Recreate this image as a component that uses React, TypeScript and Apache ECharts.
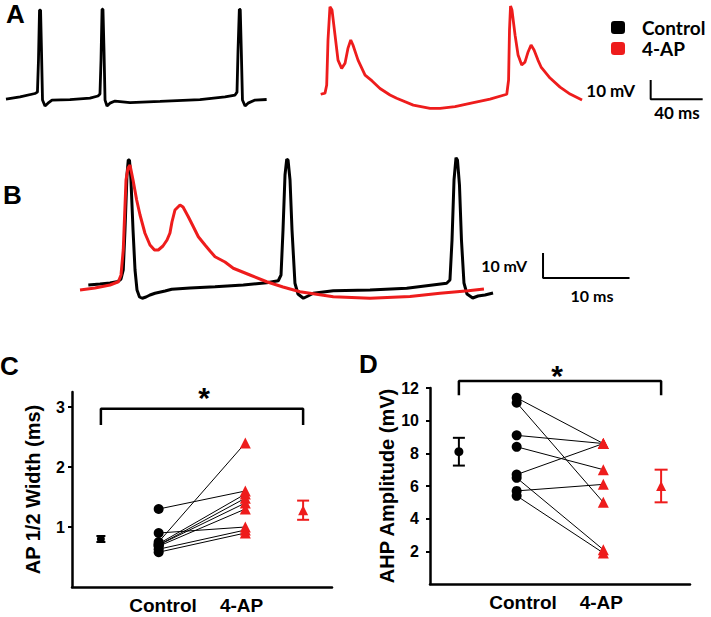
import React, { useEffect, useRef } from 'react';
import * as echarts from 'echarts';

const RED = '#ee1c1c';
const BLACK = '#000000';
const ARIAL = '"Liberation Sans", Arial, Helvetica, sans-serif';
const CALIBRI = 'Lato, "Open Sans", sans-serif';

// ---------- Panel A (time in ms, membrane potential in mV) ----------
const aControlT = [4.6, 15.4, 26.9, 28.8, 29.6, 30.4, 31.2, 31.9, 32.7, 34.6, 36.9, 40.0, 53.8, 69.2, 75.4, 76.9, 77.7, 78.5, 79.2, 80.0, 80.8, 82.3, 84.6, 88.5, 100.0, 123.1, 153.8, 173.1, 180.8, 182.3, 183.1, 184.1, 184.8, 185.6, 186.5, 188.5, 190.8, 196.2, 205.1];
const aControlV = [-51.3, -50.2, -48.4, -47.7, -31.1, -5.2, -5.2, -25.9, -51.8, -54.9, -53.4, -51.8, -51.6, -50.8, -49.7, -48.7, -31.1, -4.8, -4.8, -25.9, -51.8, -54.9, -53.4, -52.3, -53.1, -52.5, -51.6, -50.2, -49.2, -47.7, -25.9, -4.8, -4.9, -25.9, -51.8, -54.9, -53.4, -51.8, -51.5];
const aDrugT = [246.7, 250.0, 251.3, 252.3, 253.8, 255.4, 257.7, 260.0, 262.8, 265.4, 267.7, 269.8, 271.5, 275.4, 280.8, 286.2, 292.3, 300.0, 305.1, 317.9, 330.8, 338.5, 350.0, 361.5, 376.9, 389.8, 391.2, 391.9, 392.7, 393.8, 396.2, 398.5, 401.3, 403.8, 406.2, 408.5, 410.8, 413.8, 416.2, 423.1, 430.8, 438.5, 447.7];
const aDrugV = [-48.8, -48.2, -44.0, -20.7, -3.5, -5.2, -18.2, -31.1, -35.4, -32.7, -24.9, -20.7, -23.3, -31.1, -38.9, -41.9, -45.8, -49.2, -50.9, -54.4, -56.1, -56.1, -55.2, -53.5, -51.3, -48.8, -41.4, -15.6, -3.1, -5.2, -18.2, -28.5, -33.6, -32.2, -26.9, -23.3, -25.9, -31.1, -34.7, -40.4, -45.1, -48.7, -51.8];

// ---------- Panel B (time in ms, mV) ----------
const bControlT = [10.21, 11.56, 12.72, 13.64, 13.99, 14.25, 14.45, 14.68, 14.83, 14.97, 15.14, 15.38, 15.61, 15.84, 16.13, 16.45, 16.88, 17.34, 17.92, 19.08, 19.85, 21.97, 24.86, 28.13, 30.83, 32.17, 32.49, 32.72, 32.95, 33.15, 33.30, 33.53, 33.76, 34.10, 34.45, 35.07, 35.61, 36.22, 38.53, 42.78, 47.02, 51.64, 52.02, 52.26, 52.49, 52.72, 52.89, 53.12, 53.35, 53.64, 53.99, 54.65, 55.26, 56.07, 57.00];
const bControlV = [-58.0, -57.6, -57.2, -56.6, -55.6, -52.0, -36.0, -14.0, -8.0, -8.0, -16.0, -36.0, -52.0, -60.0, -62.8, -63.3, -62.8, -62.0, -61.3, -60.4, -59.7, -59.2, -58.7, -58.0, -57.1, -56.3, -54.0, -36.0, -14.0, -7.7, -8.0, -16.0, -36.0, -57.3, -61.6, -63.3, -62.4, -61.3, -60.3, -60.0, -59.3, -57.3, -56.0, -40.0, -16.0, -7.1, -8.0, -18.0, -40.0, -57.2, -61.6, -63.2, -62.4, -62.0, -61.2];
const bDrugT = [9.25, 10.98, 12.72, 13.68, 13.99, 14.25, 14.57, 14.80, 15.03, 15.38, 15.80, 16.19, 16.76, 17.34, 17.86, 18.30, 18.84, 19.31, 19.65, 19.88, 20.23, 20.81, 21.16, 21.77, 22.31, 22.93, 23.70, 24.28, 24.86, 26.01, 26.97, 28.90, 30.83, 32.72, 34.68, 38.53, 42.78, 47.40, 50.87, 54.14, 55.95];
const bDrugV = [-60.0, -59.2, -58.0, -56.7, -54.0, -44.0, -16.0, -11.2, -10.0, -16.0, -24.0, -30.0, -37.3, -42.0, -44.0, -44.0, -42.4, -40.0, -37.2, -32.8, -28.0, -26.0, -26.8, -30.7, -34.4, -38.7, -42.0, -44.4, -46.7, -48.8, -51.3, -54.0, -56.7, -58.8, -60.7, -62.7, -63.3, -62.6, -61.3, -60.3, -59.6];

// scale bars: [t0, v0, dt (ms), dv (mV)]
const scaleA = [500.5, -51.4, 40, 10];
const scaleB = [62.78, -55.2, 10, 10];

// ---------- Panel C: AP 1/2 width (ms) ----------
const groupLabels = ['Control', '4-AP'];
const cControl = [1.3, 0.9, 0.75, 0.72, 0.7, 0.7, 0.68, 0.63, 0.58];
const cDrug = [1.6, 1.0, 2.4, 1.55, 1.48, 1.4, 1.3, 0.95, 0.9];
const cMean = [0.8, 1.28];
const cSem = [0.05, 0.16];
const cTicks = [1, 2, 3];

// ---------- Panel D: AHP amplitude (mV) ----------
const dControl = [11.4, 11.1, 9.1, 8.4, 6.7, 6.5, 5.7, 5.4];
const dDrug = [8.6, 5.0, 8.6, 7.0, 8.6, 2.1, 6.1, 1.9];
const dMean = [8.1, 6.0];
const dSem = [0.85, 1.0];
const dTicks = [2, 4, 6, 8, 10, 12];

const zip = (t: number[], v: number[]) => t.map((x, i) => [x, v[i]]);

// x positions of the groups on the summary plots
const X_MEAN_C = 1, X_C = 3, X_AP = 6, X_MEAN_AP = 8;

function errorBar(axis: number, data: number[][], color: string, half: number) {
  return {
    type: 'custom', xAxisIndex: axis, yAxisIndex: axis, data, encode: { x: 0, y: 1 }, z: 5,
    renderItem: (_p: any, api: any) => {
      const x = api.value(0), m = api.value(1), e = api.value(2);
      const hi = api.coord([x, m + e]);
      const lo = api.coord([x, m - e]);
      const s = { stroke: color, lineWidth: 2 };
      return {
        type: 'group', children: [
          { type: 'line', shape: { x1: hi[0], y1: hi[1], x2: lo[0], y2: lo[1] }, style: s },
          { type: 'line', shape: { x1: hi[0] - half, y1: hi[1], x2: hi[0] + half, y2: hi[1] }, style: s },
          { type: 'line', shape: { x1: lo[0] - half, y1: lo[1], x2: lo[0] + half, y2: lo[1] }, style: s },
        ],
      };
    },
  };
}

function summarySeries(axis: number, ctrl: number[], drug: number[], mean: number[], sem: number[],
  bracket: number[], sizes: { half: number[]; meanC: number; pt: number; tri: number }) {
  const s: any[] = [];
  ctrl.forEach((c, i) => {
    s.push({ type: 'line', xAxisIndex: axis, yAxisIndex: axis, data: [[X_C, c], [X_AP, drug[i]]],
      symbol: 'none', lineStyle: { color: BLACK, width: 1 }, z: 2, silent: true });
  });
  s.push({ type: 'scatter', xAxisIndex: axis, yAxisIndex: axis, data: ctrl.map((v) => [X_C, v]),
    symbol: 'circle', symbolSize: sizes.pt, itemStyle: { color: BLACK, opacity: 1 }, z: 4 });
  s.push({ type: 'scatter', xAxisIndex: axis, yAxisIndex: axis, data: drug.map((v) => [X_AP, v]),
    symbol: 'triangle', symbolSize: sizes.tri, itemStyle: { color: RED, opacity: 1 }, z: 4 });
  s.push(errorBar(axis, [[X_MEAN_C, mean[0], sem[0]]], BLACK, sizes.half[0]));
  s.push(errorBar(axis, [[X_MEAN_AP, mean[1], sem[1]]], RED, sizes.half[1]));
  s.push({ type: 'scatter', xAxisIndex: axis, yAxisIndex: axis, data: [[X_MEAN_C, mean[0]]],
    symbol: 'circle', symbolSize: sizes.meanC, itemStyle: { color: BLACK, opacity: 1 }, z: 6 });
  s.push({ type: 'scatter', xAxisIndex: axis, yAxisIndex: axis, data: [[X_MEAN_AP, mean[1]]],
    symbol: 'triangle', symbolSize: 10, itemStyle: { color: RED, opacity: 1 }, z: 6 });
  s.push({ type: 'line', xAxisIndex: axis, yAxisIndex: axis, clip: false, symbol: 'none',
    data: [[X_MEAN_C, bracket[1]], [X_MEAN_C, bracket[0]], [X_MEAN_AP, bracket[0]], [X_MEAN_AP, bracket[1]]],
    lineStyle: { color: BLACK, width: 2.5 }, z: 3, silent: true });
  return s;
}

function summaryXAxis(grid: number, labelPos: number[]) {
  return {
    gridIndex: grid, type: 'value', min: 0, max: 9,
    axisLine: { show: true, onZero: false, lineStyle: { color: BLACK, width: 2.5 } },
    axisTick: { show: false }, splitLine: { show: false },
    axisLabel: {
      customValues: labelPos, margin: 9, color: BLACK, fontFamily: ARIAL, fontWeight: 'bold', fontSize: 19,
      formatter: (v: number) => (v < 4.5 ? groupLabels[0] : groupLabels[1]),
    },
  };
}

function summaryYAxis(grid: number, max: number, ticks: number[], name: string, gap: number, margin: number) {
  return {
    gridIndex: grid, type: 'value', min: 0, max,
    axisLine: { show: true, onZero: false, lineStyle: { color: BLACK, width: 2.5 } },
    axisTick: { show: true, customValues: ticks, length: 4, lineStyle: { color: BLACK, width: 2 } },
    splitLine: { show: false },
    axisLabel: { customValues: ticks, margin, color: BLACK, fontFamily: ARIAL, fontWeight: 'bold', fontSize: 16 },
    name, nameLocation: 'middle', nameGap: gap, nameRotate: 90,
    nameTextStyle: { color: BLACK, fontFamily: ARIAL, fontWeight: 'bold', fontSize: 20 },
  };
}

function scaleBar(axis: number, sb: number[]) {
  const [t0, v0, dt, dv] = sb;
  return { type: 'line', xAxisIndex: axis, yAxisIndex: axis, symbol: 'none', clip: false,
    data: [[t0, v0 + dv], [t0, v0], [t0 + dt, v0]], lineStyle: { color: BLACK, width: 2 }, silent: true };
}

function txt(text: string, x: number, y: number, size: number, opts: any = {}) {
  return { type: 'text', x, y, silent: true, style: {
    text, fontSize: size, fontWeight: 'bold', fontFamily: opts.family || ARIAL, fill: opts.fill || BLACK,
    textAlign: opts.align || 'left', textVerticalAlign: 'middle' } };
}

export default function App() {
  const ref = useRef<HTMLDivElement>(null);
  useEffect(() => {
    document.body.style.margin = '0';
    const chart = echarts.init(ref.current!, null, { renderer: 'svg' });
    const option: any = {
      animation: false,
      backgroundColor: '#ffffff',
      grid: [
        { left: 0, top: 0, width: 711, height: 130 },
        { left: 0, top: 140, width: 711, height: 170 },
        { left: 72, top: 392, width: 260, height: 195 },
        { left: 430, top: 388, width: 260, height: 196 },
      ],
      xAxis: [
        { gridIndex: 0, type: 'value', min: 0, max: 546.9, show: false },
        { gridIndex: 1, type: 'value', min: 0, max: 82.2, show: false },
        summaryXAxis(2, [3.15, 5.87]),
        summaryXAxis(3, [3.22, 5.93]),
      ],
      yAxis: [
        { gridIndex: 0, type: 'value', min: -67.3, max: 0, show: false },
        { gridIndex: 1, type: 'value', min: -68, max: 0, show: false },
        summaryYAxis(2, 3.25, cTicks, 'AP 1/2 Width (ms)', 29, 7),
        summaryYAxis(3, 12, dTicks, 'AHP Amplitude (mV)', 31, 11),
      ],
      legend: {
        data: ['Control', '4-AP'],
        orient: 'vertical', left: 606, top: 13, itemWidth: 14, itemHeight: 13, itemGap: 2,
        icon: 'roundRect', selectedMode: false,
        textStyle: { fontFamily: CALIBRI, fontWeight: 'bold', fontSize: 19, lineHeight: 19, color: BLACK, padding: [0, 0, 0, 12] },
      },
      series: [
        { name: 'Control', type: 'line', xAxisIndex: 0, yAxisIndex: 0, data: zip(aControlT, aControlV),
          symbol: 'none', itemStyle: { color: BLACK }, lineStyle: { color: BLACK, width: 2.8 }, clip: false },
        { name: '4-AP', type: 'line', xAxisIndex: 0, yAxisIndex: 0, data: zip(aDrugT, aDrugV),
          symbol: 'none', itemStyle: { color: RED }, lineStyle: { color: RED, width: 2.8 }, clip: false },
        scaleBar(0, scaleA),
        { type: 'line', xAxisIndex: 1, yAxisIndex: 1, data: zip(bControlT, bControlV),
          symbol: 'none', lineStyle: { color: BLACK, width: 3 }, clip: false, z: 2 },
        { type: 'line', xAxisIndex: 1, yAxisIndex: 1, data: zip(bDrugT, bDrugV),
          symbol: 'none', lineStyle: { color: RED, width: 3 }, clip: false, z: 3 },
        scaleBar(1, scaleB),
        ...summarySeries(2, cControl, cDrug, cMean, cSem, [2.97, 2.7], { half: [4.5, 6], meanC: 8, pt: 10, tri: 11 }),
        ...summarySeries(3, dControl, dDrug, dMean, dSem, [12.43, 11.55], { half: [6, 6.5], meanC: 9, pt: 10, tri: 11 }),
      ],
      graphic: [
        txt('A', 6, 14, 26),
        txt('B', 3, 195, 26),
        txt('C', 0, 366, 26),
        txt('D', 359, 364, 26),
        txt('*', 204, 397, 30, { align: 'center' }),
        txt('*', 557, 375, 30, { align: 'center' }),
        txt('10 mV', 635, 90, 17, { family: CALIBRI, align: 'right' }),
        txt('40 ms', 677, 112, 17, { family: CALIBRI, align: 'center' }),
        txt('10 mV', 527, 265, 16, { family: CALIBRI, align: 'right' }),
        txt('10 ms', 592, 295, 16, { family: CALIBRI, align: 'center' }),
      ],
    };
    chart.setOption(option);
    return () => chart.dispose();
  }, []);
  return <div ref={ref} style={{ width: 711, height: 617 }} />;
}
